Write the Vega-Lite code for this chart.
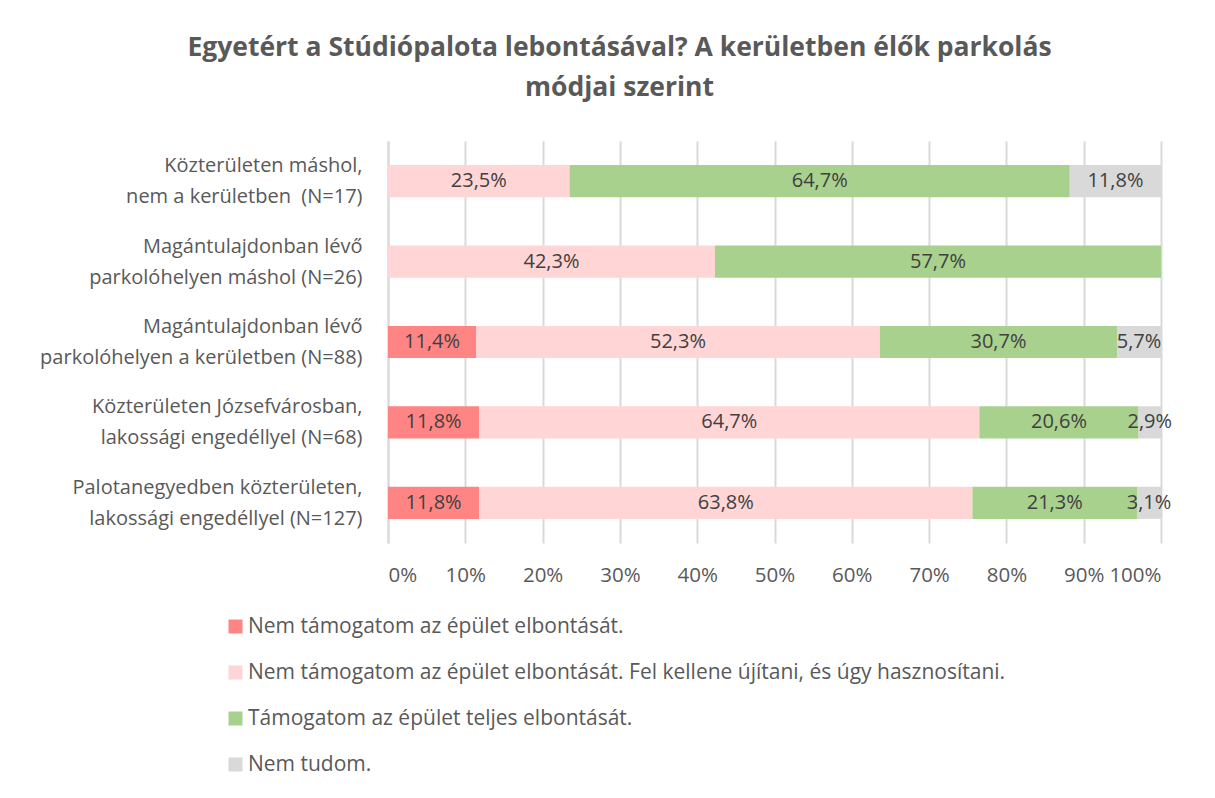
{
  "$schema": "https://vega.github.io/schema/vega-lite/v6.json",
  "width": 773,
  "height": 402,
  "autosize": {"type": "none"},
  "padding": {"left": 388, "top": 141, "right": 54, "bottom": 255},
  "background": "white",
  "title": {
    "text": ["Egyetért a Stúdiópalota lebontásával? A kerületben élők parkolás", "módjai szerint"],
    "fontSize": 26.5,
    "font": "Open Sans",
    "fontWeight": "bold",
    "color": "#595959",
    "anchor": "middle",
    "frame": "group",
    "dx": -155,
    "offset": 40,
    "lineHeight": 40
  },
  "data": {
    "values": [
      {"cat": "Közterületen máshol,|nem a kerületben  (N=17)", "ans": "Nem támogatom az épület elbontását.", "o": 1, "v": 0},
      {"cat": "Közterületen máshol,|nem a kerületben  (N=17)", "ans": "Nem támogatom az épület elbontását. Fel kellene újítani, és úgy hasznosítani.", "o": 2, "v": 0.235},
      {"cat": "Közterületen máshol,|nem a kerületben  (N=17)", "ans": "Támogatom az épület teljes elbontását.", "o": 3, "v": 0.647},
      {"cat": "Közterületen máshol,|nem a kerületben  (N=17)", "ans": "Nem tudom.", "o": 4, "v": 0.118},
      {"cat": "Magántulajdonban lévő|parkolóhelyen máshol (N=26)", "ans": "Nem támogatom az épület elbontását.", "o": 1, "v": 0},
      {"cat": "Magántulajdonban lévő|parkolóhelyen máshol (N=26)", "ans": "Nem támogatom az épület elbontását. Fel kellene újítani, és úgy hasznosítani.", "o": 2, "v": 0.423},
      {"cat": "Magántulajdonban lévő|parkolóhelyen máshol (N=26)", "ans": "Támogatom az épület teljes elbontását.", "o": 3, "v": 0.577},
      {"cat": "Magántulajdonban lévő|parkolóhelyen máshol (N=26)", "ans": "Nem tudom.", "o": 4, "v": 0},
      {"cat": "Magántulajdonban lévő|parkolóhelyen a kerületben (N=88)", "ans": "Nem támogatom az épület elbontását.", "o": 1, "v": 0.114},
      {"cat": "Magántulajdonban lévő|parkolóhelyen a kerületben (N=88)", "ans": "Nem támogatom az épület elbontását. Fel kellene újítani, és úgy hasznosítani.", "o": 2, "v": 0.523},
      {"cat": "Magántulajdonban lévő|parkolóhelyen a kerületben (N=88)", "ans": "Támogatom az épület teljes elbontását.", "o": 3, "v": 0.307},
      {"cat": "Magántulajdonban lévő|parkolóhelyen a kerületben (N=88)", "ans": "Nem tudom.", "o": 4, "v": 0.057},
      {"cat": "Közterületen Józsefvárosban,|lakossági engedéllyel (N=68)", "ans": "Nem támogatom az épület elbontását.", "o": 1, "v": 0.118},
      {"cat": "Közterületen Józsefvárosban,|lakossági engedéllyel (N=68)", "ans": "Nem támogatom az épület elbontását. Fel kellene újítani, és úgy hasznosítani.", "o": 2, "v": 0.647},
      {"cat": "Közterületen Józsefvárosban,|lakossági engedéllyel (N=68)", "ans": "Támogatom az épület teljes elbontását.", "o": 3, "v": 0.206},
      {"cat": "Közterületen Józsefvárosban,|lakossági engedéllyel (N=68)", "ans": "Nem tudom.", "o": 4, "v": 0.029},
      {"cat": "Palotanegyedben közterületen,|lakossági engedéllyel (N=127)", "ans": "Nem támogatom az épület elbontását.", "o": 1, "v": 0.118},
      {"cat": "Palotanegyedben közterületen,|lakossági engedéllyel (N=127)", "ans": "Nem támogatom az épület elbontását. Fel kellene újítani, és úgy hasznosítani.", "o": 2, "v": 0.638},
      {"cat": "Palotanegyedben közterületen,|lakossági engedéllyel (N=127)", "ans": "Támogatom az épület teljes elbontását.", "o": 3, "v": 0.213},
      {"cat": "Palotanegyedben közterületen,|lakossági engedéllyel (N=127)", "ans": "Nem tudom.", "o": 4, "v": 0.031}
    ]
  },
  "transform": [
    {"filter": "datum.v > 0"}
  ],
  "encoding": {
    "y": {
      "field": "cat",
      "type": "nominal",
      "sort": null,
      "scale": {"paddingInner": 0.6, "paddingOuter": 0.3},
      "axis": {
        "title": null,
        "labelExpr": "split(replace(datum.label, '  ', ' \u00a0'), '|')",
        "labelFontSize": 20,
        "labelFont": "Open Sans",
        "labelColor": "#595959",
        "labelLineHeight": 31,
        "labelOffset": -15,
        "ticks": false,
        "tickSize": 0,
        "labelPadding": 26,
        "labelLimit": 0,
        "domain": true,
        "domainColor": "#d9d9d9",
        "domainWidth": 2
      }
    },
    "order": {"field": "o", "type": "quantitative"}
  },
  "layer": [
    {
      "mark": {"type": "bar"},
      "encoding": {
        "x": {
          "field": "v",
          "type": "quantitative",
          "stack": "normalize",
          "scale": {"domain": [0, 1], "nice": false},
          "axis": {
            "title": null,
            "format": "%",
            "values": [0, 0.1, 0.2, 0.3, 0.4, 0.5, 0.6, 0.7, 0.8, 0.9, 1],
            "grid": true,
            "gridColor": "#d9d9d9",
            "gridWidth": 2,
            "domain": false,
            "ticks": false,
            "tickSize": 0,
            "labelPadding": 22,
            "labelFontSize": 20.5,
            "labelFont": "Open Sans",
            "labelColor": "#595959"
          }
        },
        "color": {
          "field": "ans",
          "type": "nominal",
          "scale": {
            "domain": [
              "Nem támogatom az épület elbontását.",
              "Nem támogatom az épület elbontását. Fel kellene újítani, és úgy hasznosítani.",
              "Támogatom az épület teljes elbontását.",
              "Nem tudom."
            ],
            "range": ["#FF8585", "#FFD5D5", "#A9D18E", "#D9D9D9"]
          },
          "legend": {
            "title": null,
            "orient": "none",
            "legendX": -163,
            "legendY": 475,
            "direction": "vertical",
            "symbolType": "square",
            "symbolSize": 196,
            "symbolStrokeWidth": 0,
            "labelFontSize": 21,
            "labelFont": "Open Sans",
            "labelColor": "#595959",
            "labelOffset": 2,
            "labelLimit": 0,
            "rowPadding": 24
          }
        }
      }
    },
    {
      "mark": {"type": "text", "fontSize": 20, "font": "Open Sans", "color": "#404040"},
      "encoding": {
        "x": {"field": "v", "type": "quantitative", "stack": "normalize", "bandPosition": 0.5},
        "text": {"field": "v", "type": "quantitative", "format": ".1%"}
      }
    }
  ],
  "config": {
    "font": "Open Sans",
    "locale": {"number": {"decimal": ",", "thousands": " ", "grouping": [3], "currency": ["", " Ft"]}},
    "view": {"stroke": null}
  }
}
